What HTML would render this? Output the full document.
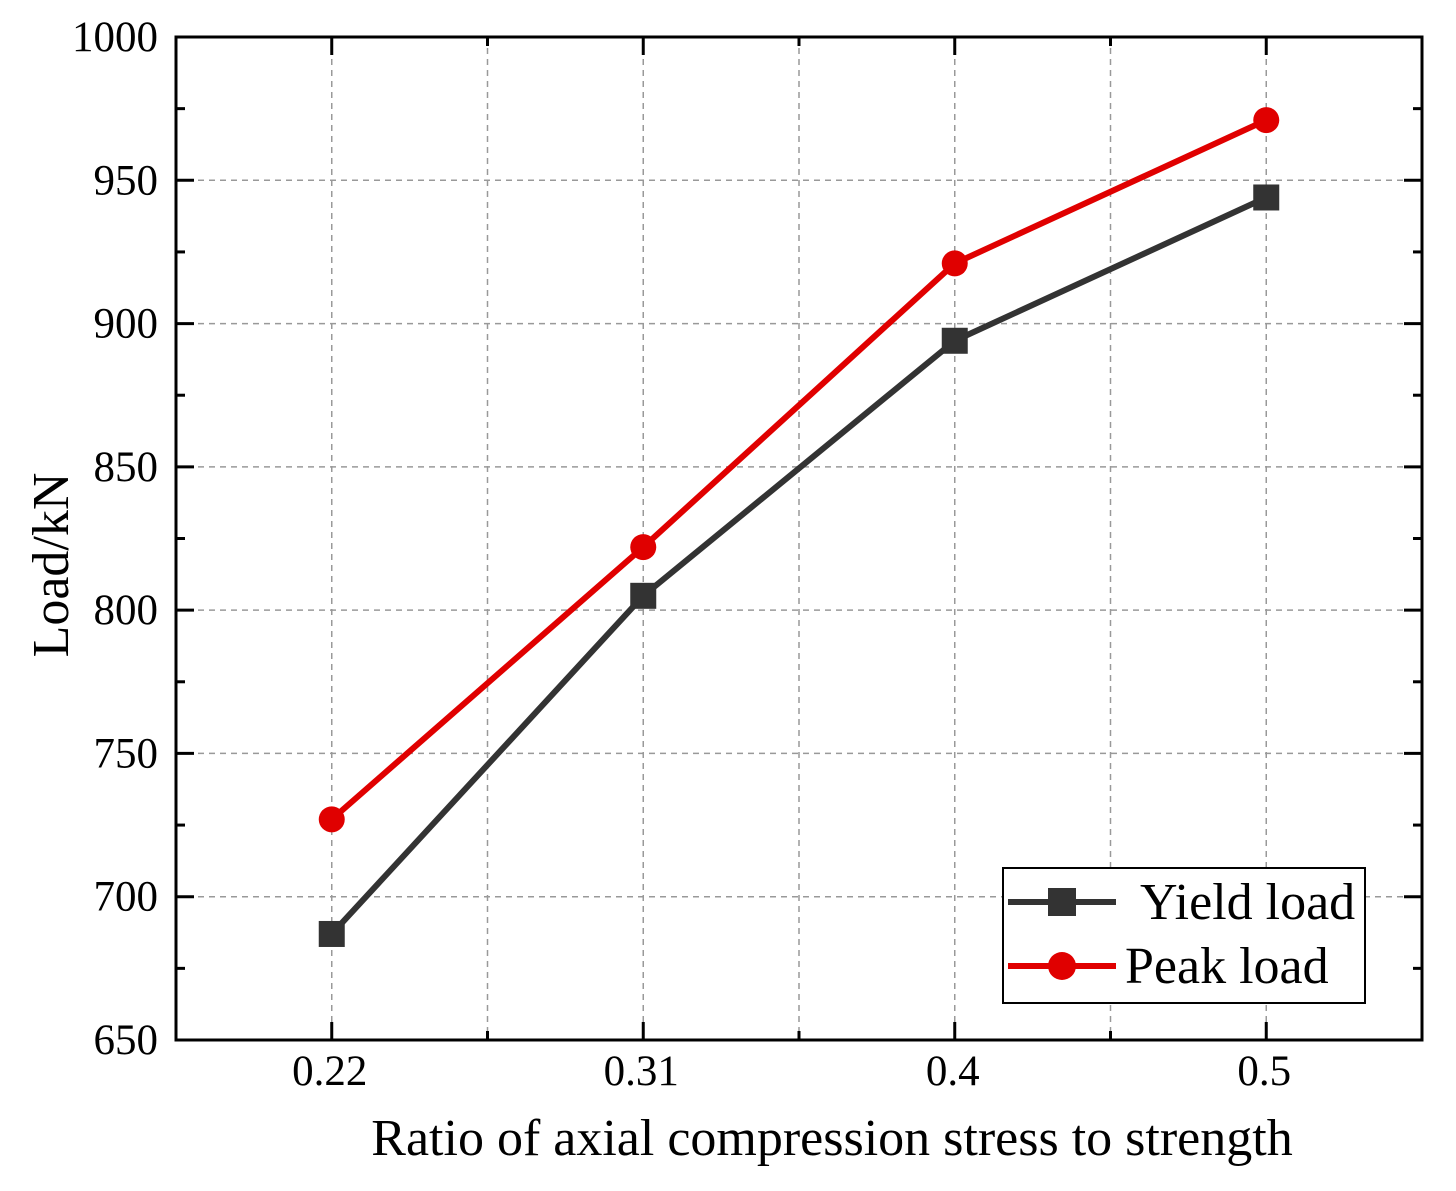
<!DOCTYPE html>
<html><head><meta charset="utf-8"><style>
html,body{margin:0;padding:0;background:#fff;}
svg{display:block;font-family:"Liberation Serif",serif;}
</style></head><body>
<svg id="chart" width="1456" height="1191" viewBox="0 0 1456 1191" xmlns="http://www.w3.org/2000/svg">
<g id="grid"></g>
<g id="axes"></g>
<g id="series"></g>
<text x="832" y="1155" font-size="52" text-anchor="middle" fill="#000">Ratio of axial compression stress to strength</text>
<text transform="translate(68,565) rotate(-90)" font-size="52" text-anchor="middle" fill="#000">Load/kN</text>
<g>
<rect x="1003" y="868" width="362" height="135" fill="#fff" stroke="#000" stroke-width="2"/>
<g>
<line x1="1008" y1="902" x2="1116" y2="902" stroke="#333" stroke-width="6"/>
<rect x="1048" y="888" width="28" height="28" fill="#333"/>
<text x="1140" y="919" font-size="52" fill="#000">Yield load</text>
</g>
<g>
<line x1="1008" y1="966" x2="1116" y2="966" stroke="#e00000" stroke-width="6"/>
<circle cx="1062" cy="966" r="14" fill="#e00000"/>
<text x="1125" y="983" font-size="52" fill="#000">Peak load</text>
</g>
</g>
</svg>
<script>
const categories=["0.22","0.31","0.4","0.5"];
const yieldLoad=[687,805,894,944];
const peakLoad=[727,822,921,971];
const yTicks=[650,700,750,800,850,900,950,1000];
const L=176,R=1422,T=37,B=1040,yMin=650,yMax=1000;
const NS="http://www.w3.org/2000/svg";
const step=(R-L)/categories.length;
const x=i=>L+step*(i+0.5);
const y=v=>B-(v-yMin)/(yMax-yMin)*(B-T);
function mk(tag,attrs,parent){const e=document.createElementNS(NS,tag);for(const k in attrs)e.setAttribute(k,attrs[k]);parent.appendChild(e);return e;}
const grid=document.getElementById('grid'),axes=document.getElementById('axes'),ser=document.getElementById('series');
for(let i=0;i<categories.length;i++){
  for(const xx of [x(i), i<categories.length-1? x(i)+step/2:null]){
    if(xx===null)continue;
    const g=mk('line',{x1:xx,x2:xx,y1:T,y2:B,stroke:'#999','stroke-width':1.5,'stroke-dasharray':'6,5'},grid);
    
    
  }
}
yTicks.forEach(v=>{
  if(v!==yMin&&v!==yMax){const g=mk('line',{x1:L,x2:R,y1:y(v),y2:y(v),stroke:'#999','stroke-width':1.5,'stroke-dasharray':'6,5'},grid);
  
  }
});
const frame=mk('rect',{x:L,y:T,width:R-L,height:B-T,fill:'none',stroke:'#000','stroke-width':3},axes);


yTicks.forEach((v,k)=>{
  const yy=y(v);
  mk('line',{x1:L,x2:L+18,y1:yy,y2:yy,stroke:'#000','stroke-width':3},axes);
  mk('line',{x1:R,x2:R-18,y1:yy,y2:yy,stroke:'#000','stroke-width':3},axes);
  if(k<yTicks.length-1){const ym=y(v+25);
    mk('line',{x1:L,x2:L+9,y1:ym,y2:ym,stroke:'#000','stroke-width':3},axes);
    mk('line',{x1:R,x2:R-9,y1:ym,y2:ym,stroke:'#000','stroke-width':3},axes);}
  const t=mk('text',{x:L-18,y:yy+14,'font-size':43,'text-anchor':'end',fill:'#000'},axes);
  t.textContent=v;
  
  
});
categories.forEach((c,i)=>{
  const xx=x(i);
  mk('line',{x1:xx,x2:xx,y1:B,y2:B-18,stroke:'#000','stroke-width':3},axes);
  mk('line',{x1:xx,x2:xx,y1:T,y2:T+18,stroke:'#000','stroke-width':3},axes);
  if(i<categories.length-1){const xm=xx+step/2;
    mk('line',{x1:xm,x2:xm,y1:B,y2:B-9,stroke:'#000','stroke-width':3},axes);
    mk('line',{x1:xm,x2:xm,y1:T,y2:T+9,stroke:'#000','stroke-width':3},axes);}
  const t=mk('text',{x:xx-2,y:B+45,'font-size':43,'text-anchor':'middle',fill:'#000'},axes);
  t.textContent=c;
  
  
});
function drawSeries(vals,color,marker,name){
  const pl=mk('polyline',{points:vals.map((v,i)=>x(i)+','+y(v)).join(' '),fill:'none',stroke:color,'stroke-width':6,'stroke-linejoin':'round'},ser);
  
  
  vals.forEach((v,i)=>{
    let m;
    if(marker==='square')m=mk('rect',{x:x(i)-13,y:y(v)-13,width:26,height:26,fill:color},ser);
    else m=mk('circle',{cx:x(i),cy:y(v),r:13,fill:color},ser);
    
    
  });
}
drawSeries(yieldLoad,'#333','square','yield-load');
drawSeries(peakLoad,'#e00000','circle','peak-load');
</script>
</body></html>
